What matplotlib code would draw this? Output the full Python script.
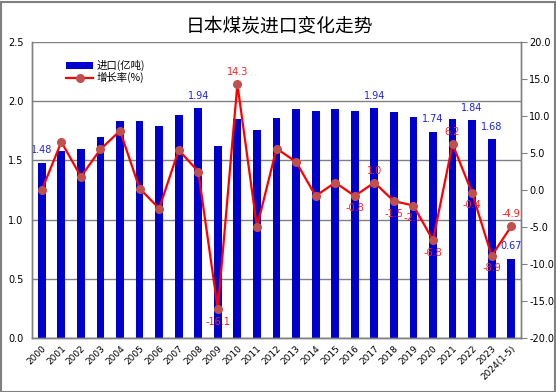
import matplotlib
matplotlib.use("Agg")
import matplotlib.pyplot as plt
from matplotlib.patches import Rectangle

plt.rcParams['font.family'] = ['Noto Sans CJK SC', 'DejaVu Sans']

years = ['2000', '2001', '2002', '2003', '2004', '2005', '2006', '2007', '2008', '2009',
         '2010', '2011', '2012', '2013', '2014', '2015', '2016', '2017', '2018', '2019',
         '2020', '2021', '2022', '2023', '2024(1-5)']
imports = [1.48, 1.58, 1.60, 1.70, 1.83, 1.83, 1.79, 1.88, 1.94, 1.62,
           1.85, 1.76, 1.86, 1.93, 1.92, 1.93, 1.92, 1.94, 1.91, 1.87,
           1.74, 1.85, 1.84, 1.68, 0.67]
growth = [0.0, 6.5, 1.8, 5.5, 8.0, 0.2, -2.5, 5.4, 2.5, -16.1,
          14.3, -5.0, 5.6, 3.8, -0.8, 1.0, -0.8, 1.0, -1.5, -2.1,
          -6.8, 6.2, -0.4, -8.9, -4.9]

bar_label_idx = [0, 8, 17, 20, 22, 23, 24]
growth_label_above = [10, 17, 21, 24]
growth_label_below = [9, 16, 18, 19, 20, 22, 23]

W, H = 556, 392
fig = plt.figure(figsize=(W / 100, H / 100), dpi=100)
ax = fig.add_axes([32 / W, 1 - 338 / H, 489 / W, 296 / H])
ax2 = ax.twinx()

x = list(range(len(years)))
gray = '#808080'

ax.bar(x, imports, width=0.4, color='#0000CC', zorder=2, label='进口(亿吨)')
ax.set_xlim(-0.5, len(years) - 0.5)
ax.set_ylim(0, 2.5)
ax.set_yticks([0, 0.5, 1.0, 1.5, 2.0, 2.5])
ax.set_yticklabels([f'{v:.1f}' for v in [0, 0.5, 1.0, 1.5, 2.0, 2.5]], fontsize=7,
                   family='DejaVu Sans')
ax.yaxis.grid(True, color=gray, lw=1, zorder=0)
ax.set_axisbelow(True)
ax.tick_params(axis='y', length=0, pad=6)
ax.set_xticks(x)
ax.set_xticklabels(years, rotation=45, ha='right', va='top', rotation_mode='anchor',
                   fontsize=6.5, family='DejaVu Sans')
ax.tick_params(axis='x', length=0, pad=4)

ax2.plot(x, growth, color='#FF0000', lw=1.6, marker='o', markersize=5.5,
         markerfacecolor='#C0504D', markeredgecolor='#C0504D', zorder=3, label='增长率(%)')
ax2.set_ylim(-20, 20)
rt = [-20, -15, -10, -5, 0, 5, 10, 15, 20]
ax2.set_yticks(rt)
ax2.set_yticklabels([f'{v:.1f}' for v in rt], fontsize=7, family='DejaVu Sans')
ax2.tick_params(axis='y', length=4, color=gray, direction='out', pad=2)

for a in (ax, ax2):
    for s in a.spines.values():
        s.set_color(gray)
        s.set_linewidth(1)
    a.spines['top'].set_visible(False)

for i in bar_label_idx:
    ax.annotate(f'{imports[i]:.2f}', (x[i], imports[i]), xytext=(0, 9),
                textcoords='offset points', ha='center', va='center',
                fontsize=7, color='#2222DD', family='DejaVu Sans', zorder=5)
for i in growth_label_above:
    ax2.annotate(f'{growth[i]:.1f}', (x[i], growth[i]), xytext=(0, 8.5),
                 textcoords='offset points', ha='center', va='center',
                 fontsize=7, color='#FF2020', family='DejaVu Sans', zorder=5)
for i in growth_label_below:
    ax2.annotate(f'{growth[i]:.1f}', (x[i], growth[i]), xytext=(0, -9),
                 textcoords='offset points', ha='center', va='center',
                 fontsize=7, color='#FF2020', family='DejaVu Sans', zorder=5)

h1, l1 = ax.get_legend_handles_labels()
h2, l2 = ax2.get_legend_handles_labels()
fig.legend(h1 + h2, l1 + l2, loc='upper left', bbox_to_anchor=(66 / W, 1 - 60 / H),
           frameon=False, fontsize=7.5, handlelength=2.6, handleheight=0.6,
           labelspacing=0.1, handletextpad=0.3, borderpad=0, borderaxespad=0)

fig.text(279 / W, 1 - 27 / H, '日本煤炭进口变化走势', ha='center', va='center',
         fontsize=13.5, color='black')

fig.patches.append(Rectangle((0.5 / W, 0.5 / H), (W - 2) / W, (H - 2) / H,
                             transform=fig.transFigure, fill=False,
                             edgecolor=gray, lw=1.5))

fig.savefig('out.png', dpi=100)
